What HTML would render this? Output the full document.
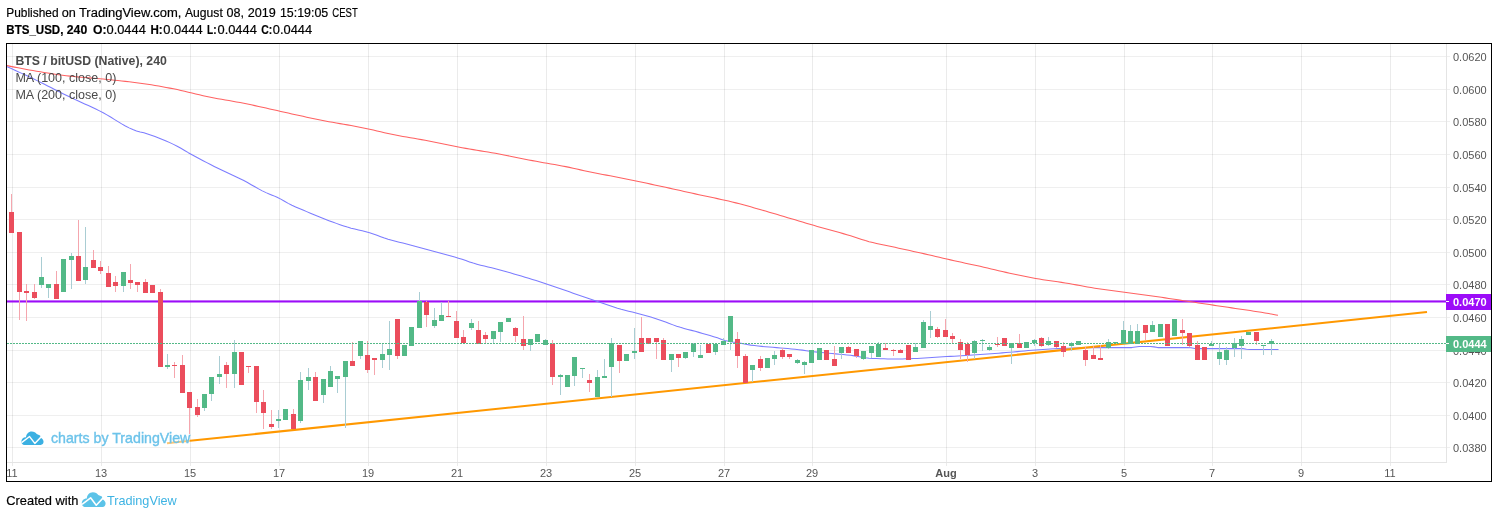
<!DOCTYPE html>
<html lang="en"><head><meta charset="utf-8"><title>BTS_USD chart</title>
<style>html,body{margin:0;padding:0;background:#fff;width:1498px;height:518px;overflow:hidden}</style>
</head><body>
<svg width="1498" height="518" viewBox="0 0 1498 518" style="position:absolute;left:0;top:0;will-change:transform;font-family:'Liberation Sans', sans-serif">
<rect x="0" y="0" width="1498" height="518" fill="#fff"/>
<g shape-rendering="crispEdges" fill="#000">
<rect x="12" y="44" width="1" height="422" fill-opacity="0.078"/>
<rect x="101" y="44" width="1" height="422" fill-opacity="0.078"/>
<rect x="190" y="44" width="1" height="422" fill-opacity="0.078"/>
<rect x="279" y="44" width="1" height="422" fill-opacity="0.078"/>
<rect x="368" y="44" width="1" height="422" fill-opacity="0.078"/>
<rect x="457" y="44" width="1" height="422" fill-opacity="0.078"/>
<rect x="546" y="44" width="1" height="422" fill-opacity="0.078"/>
<rect x="635" y="44" width="1" height="422" fill-opacity="0.078"/>
<rect x="724" y="44" width="1" height="422" fill-opacity="0.078"/>
<rect x="812" y="44" width="1" height="422" fill-opacity="0.078"/>
<rect x="946" y="44" width="1" height="422" fill-opacity="0.078"/>
<rect x="1035" y="44" width="1" height="422" fill-opacity="0.078"/>
<rect x="1124" y="44" width="1" height="422" fill-opacity="0.078"/>
<rect x="1212" y="44" width="1" height="422" fill-opacity="0.078"/>
<rect x="1301" y="44" width="1" height="422" fill-opacity="0.078"/>
<rect x="1390" y="44" width="1" height="422" fill-opacity="0.078"/>
<rect x="7" y="56" width="1443" height="1" fill-opacity="0.062"/>
<rect x="7" y="89" width="1443" height="1" fill-opacity="0.062"/>
<rect x="7" y="121" width="1443" height="1" fill-opacity="0.062"/>
<rect x="7" y="154" width="1443" height="1" fill-opacity="0.062"/>
<rect x="7" y="187" width="1443" height="1" fill-opacity="0.062"/>
<rect x="7" y="219" width="1443" height="1" fill-opacity="0.062"/>
<rect x="7" y="252" width="1443" height="1" fill-opacity="0.062"/>
<rect x="7" y="284" width="1443" height="1" fill-opacity="0.062"/>
<rect x="7" y="317" width="1443" height="1" fill-opacity="0.062"/>
<rect x="7" y="350" width="1443" height="1" fill-opacity="0.062"/>
<rect x="7" y="382" width="1443" height="1" fill-opacity="0.062"/>
<rect x="7" y="415" width="1443" height="1" fill-opacity="0.062"/>
<rect x="7" y="447" width="1443" height="1" fill-opacity="0.062"/>
</g>
<g shape-rendering="crispEdges" fill="#e4e4e4">
<rect x="1446" y="44" width="1" height="419"/>
<rect x="7" y="462" width="1440" height="1"/>
</g>
<defs><clipPath id="cp"><rect x="7" y="44" width="1439" height="418"/></clipPath></defs>
<g clip-path="url(#cp)">
<rect x="7" y="300.4" width="1439" height="2.1" fill="#9c0cf8"/>
<path d="M7.0,65.60 L10.7,66.37 L14.4,67.12 L18.1,67.85 L21.8,68.56 L25.5,69.26 L29.2,69.93 L32.9,70.58 L36.6,71.20 L40.3,71.82 L44.0,72.44 L47.7,73.04 L51.4,73.63 L55.1,74.20 L58.8,74.73 L62.5,75.24 L66.2,75.71 L69.9,76.14 L73.6,76.53 L77.3,76.89 L81.0,77.22 L84.7,77.53 L88.4,77.83 L92.1,78.13 L95.8,78.43 L99.5,78.75 L103.2,79.09 L106.9,79.46 L110.6,79.82 L114.3,80.19 L118.0,80.57 L121.7,80.95 L125.4,81.36 L129.1,81.77 L132.8,82.21 L136.5,82.67 L140.2,83.16 L143.9,83.68 L147.6,84.24 L151.3,84.83 L155.0,85.44 L158.7,86.08 L162.4,86.74 L166.1,87.43 L169.8,88.13 L173.5,88.84 L177.2,89.59 L180.9,90.41 L184.6,91.27 L188.3,92.16 L192.0,93.06 L195.7,93.97 L199.4,94.86 L203.1,95.72 L206.8,96.53 L210.5,97.28 L214.2,97.99 L217.9,98.66 L221.6,99.32 L225.3,99.96 L229.0,100.59 L232.7,101.24 L236.4,101.90 L240.1,102.58 L243.8,103.30 L247.5,104.05 L251.2,104.83 L254.9,105.62 L258.6,106.43 L262.3,107.26 L266.0,108.09 L269.7,108.92 L273.4,109.75 L277.1,110.58 L280.8,111.40 L284.5,112.23 L288.2,113.07 L291.9,113.91 L295.6,114.73 L299.3,115.55 L303.0,116.35 L306.7,117.15 L310.4,117.95 L314.1,118.73 L317.8,119.50 L321.5,120.25 L325.2,120.98 L328.9,121.67 L332.6,122.34 L336.3,122.98 L340.0,123.62 L343.7,124.25 L347.4,124.88 L351.1,125.53 L354.8,126.20 L358.5,126.90 L362.2,127.65 L365.9,128.44 L369.6,129.26 L373.3,130.11 L377.0,130.97 L380.7,131.83 L384.4,132.68 L388.1,133.51 L391.8,134.29 L395.5,135.04 L399.2,135.74 L402.9,136.41 L406.6,137.07 L410.3,137.71 L414.0,138.34 L417.7,138.97 L421.4,139.62 L425.1,140.28 L428.8,140.96 L432.5,141.68 L436.2,142.41 L439.9,143.17 L443.6,143.94 L447.3,144.71 L451.0,145.48 L454.7,146.23 L458.4,146.97 L462.1,147.68 L465.8,148.36 L469.5,149.01 L473.2,149.64 L476.9,150.25 L480.6,150.86 L484.3,151.46 L488.0,152.07 L491.7,152.69 L495.4,153.33 L499.1,153.99 L502.8,154.69 L506.5,155.41 L510.2,156.15 L513.9,156.90 L517.6,157.66 L521.3,158.42 L525.0,159.17 L528.7,159.91 L532.4,160.63 L536.1,161.32 L539.8,161.99 L543.5,162.65 L547.2,163.29 L550.9,163.93 L554.6,164.58 L558.3,165.24 L562.0,165.92 L565.7,166.62 L569.4,167.37 L573.1,168.17 L576.8,169.01 L580.5,169.88 L584.2,170.73 L587.9,171.56 L591.6,172.33 L595.3,173.05 L599.0,173.75 L602.7,174.43 L606.4,175.11 L610.1,175.79 L613.8,176.47 L617.5,177.18 L621.2,177.92 L624.9,178.67 L628.6,179.43 L632.3,180.19 L636.0,180.97 L639.7,181.75 L643.4,182.54 L647.1,183.33 L650.8,184.12 L654.5,184.92 L658.2,185.72 L661.9,186.52 L665.6,187.32 L669.3,188.13 L673.0,188.95 L676.7,189.77 L680.4,190.59 L684.1,191.41 L687.8,192.23 L691.5,193.05 L695.2,193.87 L698.9,194.68 L702.6,195.47 L706.3,196.26 L710.0,197.04 L713.7,197.82 L717.4,198.62 L721.1,199.42 L724.8,200.24 L728.5,201.09 L732.2,201.96 L735.9,202.87 L739.6,203.82 L743.3,204.80 L747.0,205.81 L750.7,206.85 L754.4,207.90 L758.1,208.97 L761.8,210.04 L765.5,211.12 L769.2,212.20 L772.9,213.27 L776.6,214.35 L780.3,215.43 L784.0,216.54 L787.7,217.64 L791.4,218.76 L795.1,219.87 L798.8,220.98 L802.5,222.09 L806.2,223.19 L809.9,224.28 L813.6,225.35 L817.3,226.40 L821.0,227.44 L824.7,228.46 L828.4,229.48 L832.1,230.51 L835.8,231.53 L839.5,232.57 L843.2,233.62 L846.9,234.69 L850.6,235.79 L854.3,236.96 L858.0,238.18 L861.7,239.41 L865.4,240.59 L869.1,241.66 L872.8,242.61 L876.5,243.48 L880.2,244.29 L883.9,245.07 L887.6,245.83 L891.3,246.59 L895.0,247.35 L898.7,248.15 L902.4,248.97 L906.1,249.78 L909.8,250.59 L913.5,251.41 L917.2,252.23 L920.9,253.05 L924.6,253.88 L928.3,254.72 L932.0,255.58 L935.7,256.44 L939.4,257.30 L943.1,258.17 L946.8,259.03 L950.5,259.88 L954.2,260.72 L957.9,261.54 L961.6,262.35 L965.3,263.15 L969.0,263.94 L972.7,264.74 L976.4,265.54 L980.1,266.35 L983.8,267.18 L987.5,268.04 L991.2,268.91 L994.9,269.79 L998.6,270.66 L1002.3,271.53 L1006.0,272.38 L1009.7,273.19 L1013.4,273.99 L1017.1,274.77 L1020.8,275.55 L1024.5,276.31 L1028.2,277.05 L1031.9,277.76 L1035.6,278.44 L1039.3,279.09 L1043.0,279.68 L1046.7,280.24 L1050.4,280.77 L1054.1,281.30 L1057.8,281.83 L1061.5,282.37 L1065.2,282.94 L1068.9,283.55 L1072.6,284.21 L1076.3,284.88 L1080.0,285.58 L1083.7,286.27 L1087.4,286.94 L1091.1,287.58 L1094.8,288.18 L1098.5,288.74 L1102.2,289.28 L1105.9,289.79 L1109.6,290.30 L1113.3,290.79 L1117.0,291.29 L1120.7,291.78 L1124.4,292.28 L1128.1,292.77 L1131.8,293.25 L1135.5,293.73 L1139.2,294.21 L1142.9,294.69 L1146.6,295.19 L1150.3,295.70 L1154.0,296.23 L1157.7,296.77 L1161.4,297.32 L1165.1,297.88 L1168.8,298.44 L1172.5,299.01 L1176.2,299.57 L1179.9,300.12 L1183.6,300.68 L1187.3,301.23 L1191.0,301.79 L1194.7,302.35 L1198.4,302.90 L1202.1,303.46 L1205.8,304.01 L1209.5,304.56 L1213.2,305.12 L1216.9,305.67 L1220.6,306.22 L1224.3,306.77 L1228.0,307.33 L1231.7,307.88 L1235.4,308.43 L1239.1,308.98 L1242.8,309.52 L1246.5,310.05 L1250.2,310.59 L1253.9,311.15 L1257.6,311.71 L1261.3,312.30 L1265.0,312.92 L1268.7,313.57 L1272.4,314.24 L1276.1,314.94 L1278.0,315.30" fill="none" stroke="#ff6262" stroke-width="1.05" stroke-linejoin="round"/>
<path d="M7.0,66.70 L10.7,68.34 L14.4,70.01 L18.1,71.69 L21.8,73.39 L25.5,75.10 L29.2,76.84 L32.9,78.59 L36.6,80.37 L40.3,82.19 L44.0,84.04 L47.7,85.91 L51.4,87.80 L55.1,89.69 L58.8,91.58 L62.5,93.45 L66.2,95.29 L69.9,97.09 L73.6,98.85 L77.3,100.56 L81.0,102.24 L84.7,103.92 L88.4,105.60 L92.1,107.30 L95.8,109.05 L99.5,110.85 L103.2,112.76 L106.9,114.84 L110.6,117.06 L114.3,119.35 L118.0,121.64 L121.7,123.87 L125.4,125.97 L129.1,127.88 L132.8,129.55 L136.5,130.89 L140.2,131.89 L143.9,132.80 L147.6,133.91 L151.3,135.15 L155.0,136.49 L158.7,137.91 L162.4,139.41 L166.1,140.99 L169.8,142.64 L173.5,144.36 L177.2,146.23 L180.9,148.31 L184.6,150.49 L188.3,152.67 L192.0,154.74 L195.7,156.74 L199.4,158.74 L203.1,160.71 L206.8,162.65 L210.5,164.57 L214.2,166.45 L217.9,168.28 L221.6,170.05 L225.3,171.77 L229.0,173.48 L232.7,175.18 L236.4,176.91 L240.1,178.70 L243.8,180.56 L247.5,182.56 L251.2,184.67 L254.9,186.81 L258.6,188.90 L262.3,190.87 L266.0,192.62 L269.7,194.16 L273.4,195.64 L277.1,197.23 L280.8,199.11 L284.5,201.25 L288.2,203.37 L291.9,205.22 L295.6,206.91 L299.3,208.51 L303.0,210.06 L306.7,211.61 L310.4,213.16 L314.1,214.71 L317.8,216.25 L321.5,217.75 L325.2,219.23 L328.9,220.66 L332.6,222.03 L336.3,223.37 L340.0,224.68 L343.7,225.93 L347.4,227.10 L351.1,228.16 L354.8,229.09 L358.5,229.95 L362.2,230.81 L365.9,231.71 L369.6,232.71 L373.3,233.91 L377.0,235.27 L380.7,236.69 L384.4,238.05 L388.1,239.24 L391.8,240.29 L395.5,241.26 L399.2,242.19 L402.9,243.09 L406.6,244.00 L410.3,244.93 L414.0,245.91 L417.7,246.90 L421.4,247.90 L425.1,248.91 L428.8,249.92 L432.5,250.94 L436.2,251.96 L439.9,252.96 L443.6,253.96 L447.3,254.96 L451.0,255.99 L454.7,257.04 L458.4,258.14 L462.1,259.33 L465.8,260.62 L469.5,261.90 L473.2,263.10 L476.9,264.16 L480.6,265.14 L484.3,266.06 L488.0,266.95 L491.7,267.84 L495.4,268.76 L499.1,269.74 L502.8,270.75 L506.5,271.77 L510.2,272.82 L513.9,273.88 L517.6,274.95 L521.3,276.04 L525.0,277.15 L528.7,278.28 L532.4,279.42 L536.1,280.58 L539.8,281.77 L543.5,282.99 L547.2,284.22 L550.9,285.48 L554.6,286.74 L558.3,288.02 L562.0,289.30 L565.7,290.59 L569.4,291.87 L573.1,293.15 L576.8,294.41 L580.5,295.67 L584.2,296.91 L587.9,298.16 L591.6,299.40 L595.3,300.65 L599.0,301.90 L602.7,303.18 L606.4,304.50 L610.1,305.82 L613.8,307.09 L617.5,308.27 L621.2,309.33 L624.9,310.28 L628.6,311.18 L632.3,312.06 L636.0,312.96 L639.7,313.92 L643.4,314.95 L647.1,316.01 L650.8,317.12 L654.5,318.26 L658.2,319.44 L661.9,320.69 L665.6,322.06 L669.3,323.47 L673.0,324.87 L676.7,326.18 L680.4,327.35 L684.1,328.41 L687.8,329.40 L691.5,330.37 L695.2,331.35 L698.9,332.38 L702.6,333.44 L706.3,334.51 L710.0,335.60 L713.7,336.72 L717.4,337.86 L721.1,339.16 L724.8,340.44 L728.5,341.34 L732.2,342.00 L735.9,342.56 L739.6,343.13 L743.3,343.80 L747.0,344.49 L750.7,345.11 L754.4,345.60 L758.1,346.02 L761.8,346.39 L765.5,346.74 L769.2,347.06 L772.9,347.35 L776.6,347.63 L780.3,347.92 L784.0,348.22 L787.7,348.55 L791.4,348.90 L795.1,349.26 L798.8,349.66 L802.5,350.13 L806.2,350.71 L809.9,351.27 L813.6,351.72 L817.3,352.11 L821.0,352.47 L824.7,352.81 L828.4,353.15 L832.1,353.51 L835.8,353.86 L839.5,354.20 L843.2,354.55 L846.9,354.92 L850.6,355.34 L854.3,355.88 L858.0,356.53 L861.7,357.20 L865.4,357.79 L869.1,358.20 L872.8,358.40 L876.5,358.56 L880.2,358.70 L883.9,358.82 L887.6,358.91 L891.3,358.97 L895.0,359.00 L898.7,358.98 L902.4,358.93 L906.1,358.83 L909.8,358.71 L913.5,358.57 L917.2,358.42 L920.9,358.26 L924.6,358.05 L928.3,357.78 L932.0,357.51 L935.7,357.26 L939.4,357.03 L943.1,356.80 L946.8,356.59 L950.5,356.37 L954.2,356.15 L957.9,355.93 L961.6,355.70 L965.3,355.48 L969.0,355.25 L972.7,355.03 L976.4,354.79 L980.1,354.55 L983.8,354.30 L987.5,354.04 L991.2,353.77 L994.9,353.48 L998.6,353.18 L1002.3,352.88 L1006.0,352.57 L1009.7,352.26 L1013.4,351.94 L1017.1,351.61 L1020.8,351.26 L1024.5,350.92 L1028.2,350.59 L1031.9,350.27 L1035.6,349.99 L1039.3,349.73 L1043.0,349.48 L1046.7,349.24 L1050.4,349.02 L1054.1,348.81 L1057.8,348.62 L1061.5,348.46 L1065.2,348.31 L1068.9,348.16 L1072.6,348.02 L1076.3,347.90 L1080.0,347.80 L1083.7,347.73 L1087.4,347.68 L1091.1,347.65 L1094.8,347.62 L1098.5,347.60 L1102.2,347.60 L1105.9,347.60 L1109.6,347.60 L1113.3,347.60 L1117.0,347.60 L1120.7,347.60 L1124.4,347.60 L1128.1,347.60 L1131.8,347.60 L1135.5,347.05 L1139.2,346.50 L1142.9,346.50 L1146.6,346.50 L1150.3,346.50 L1154.0,346.89 L1157.7,347.60 L1161.4,347.60 L1165.1,347.60 L1168.8,347.60 L1172.5,347.60 L1176.2,347.60 L1179.9,347.60 L1183.6,347.60 L1187.3,347.60 L1191.0,347.70 L1194.7,348.59 L1198.4,348.60 L1202.1,348.60 L1205.8,348.60 L1209.5,348.60 L1213.2,348.60 L1216.9,348.60 L1220.6,348.60 L1224.3,348.60 L1228.0,348.60 L1231.7,348.60 L1235.4,348.60 L1239.1,348.60 L1242.8,348.64 L1246.5,349.27 L1250.2,349.40 L1253.9,349.40 L1257.6,349.40 L1261.3,349.40 L1265.0,349.40 L1268.7,349.40 L1272.4,349.40 L1276.1,349.40 L1278.5,349.40" fill="none" stroke="#7c7cff" stroke-width="1.05" stroke-linejoin="round"/>
<line x1="167" y1="443.2" x2="190" y2="440.81" stroke="#ff9800" stroke-width="2.05" stroke-opacity="0.55"/>
<line x1="190" y1="440.81" x2="1427" y2="312.1" stroke="#ff9800" stroke-width="2.05" stroke-linecap="butt"/>
<g shape-rendering="crispEdges">
<rect x="11" y="194" width="1" height="39" fill="#f5a6ae"/>
<rect x="9" y="212" width="5" height="21" fill="#eb4d5c"/>
<rect x="19" y="232" width="1" height="88" fill="#f5a6ae"/>
<rect x="17" y="232" width="5" height="60" fill="#eb4d5c"/>
<rect x="26" y="284" width="1" height="37" fill="#f5a6ae"/>
<rect x="24" y="291" width="5" height="2" fill="#eb4d5c"/>
<rect x="34" y="284" width="1" height="15" fill="#f5a6ae"/>
<rect x="32" y="292" width="5" height="6" fill="#eb4d5c"/>
<rect x="41" y="257" width="1" height="31" fill="#a9cdd3"/>
<rect x="39" y="277" width="5" height="8" fill="#53b987"/>
<rect x="48" y="284" width="1" height="14" fill="#a9cdd3"/>
<rect x="46" y="284" width="5" height="4" fill="#53b987"/>
<rect x="56" y="271" width="1" height="28" fill="#f5a6ae"/>
<rect x="54" y="284" width="5" height="15" fill="#eb4d5c"/>
<rect x="63" y="259" width="1" height="33" fill="#a9cdd3"/>
<rect x="61" y="259" width="5" height="33" fill="#53b987"/>
<rect x="71" y="253" width="1" height="36" fill="#a9cdd3"/>
<rect x="69" y="256" width="5" height="4" fill="#53b987"/>
<rect x="78" y="220" width="1" height="61" fill="#f5a6ae"/>
<rect x="76" y="256" width="5" height="25" fill="#eb4d5c"/>
<rect x="85" y="227" width="1" height="57" fill="#a9cdd3"/>
<rect x="83" y="267" width="5" height="13" fill="#53b987"/>
<rect x="93" y="250" width="1" height="18" fill="#f5a6ae"/>
<rect x="91" y="260" width="5" height="8" fill="#eb4d5c"/>
<rect x="100" y="261" width="1" height="13" fill="#f5a6ae"/>
<rect x="98" y="267" width="5" height="4" fill="#eb4d5c"/>
<rect x="108" y="266" width="1" height="21" fill="#f5a6ae"/>
<rect x="106" y="273" width="5" height="14" fill="#eb4d5c"/>
<rect x="115" y="276" width="1" height="16" fill="#f5a6ae"/>
<rect x="113" y="282" width="5" height="4" fill="#eb4d5c"/>
<rect x="123" y="272" width="1" height="20" fill="#a9cdd3"/>
<rect x="121" y="272" width="5" height="14" fill="#53b987"/>
<rect x="130" y="264" width="1" height="25" fill="#f5a6ae"/>
<rect x="128" y="280" width="5" height="3" fill="#eb4d5c"/>
<rect x="137" y="282" width="1" height="10" fill="#f5a6ae"/>
<rect x="135" y="282" width="5" height="3" fill="#eb4d5c"/>
<rect x="145" y="279" width="1" height="14" fill="#f5a6ae"/>
<rect x="143" y="282" width="5" height="11" fill="#eb4d5c"/>
<rect x="152" y="285" width="1" height="8" fill="#f5a6ae"/>
<rect x="150" y="285" width="5" height="8" fill="#eb4d5c"/>
<rect x="160" y="289" width="1" height="78" fill="#f5a6ae"/>
<rect x="158" y="292" width="5" height="75" fill="#eb4d5c"/>
<rect x="167" y="354" width="1" height="15" fill="#a9cdd3"/>
<rect x="165" y="365" width="5" height="2" fill="#53b987"/>
<rect x="174" y="362" width="1" height="16" fill="#f5a6ae"/>
<rect x="172" y="365" width="5" height="1" fill="#eb4d5c"/>
<rect x="182" y="355" width="1" height="38" fill="#f5a6ae"/>
<rect x="180" y="365" width="5" height="28" fill="#eb4d5c"/>
<rect x="189" y="392" width="1" height="42" fill="#f5a6ae"/>
<rect x="187" y="392" width="5" height="16" fill="#eb4d5c"/>
<rect x="197" y="399" width="1" height="18" fill="#f5a6ae"/>
<rect x="195" y="407" width="5" height="8" fill="#eb4d5c"/>
<rect x="204" y="394" width="1" height="17" fill="#a9cdd3"/>
<rect x="202" y="394" width="5" height="14" fill="#53b987"/>
<rect x="211" y="377" width="1" height="24" fill="#a9cdd3"/>
<rect x="209" y="377" width="5" height="17" fill="#53b987"/>
<rect x="219" y="356" width="1" height="28" fill="#a9cdd3"/>
<rect x="217" y="374" width="5" height="3" fill="#53b987"/>
<rect x="226" y="362" width="1" height="26" fill="#f5a6ae"/>
<rect x="224" y="365" width="5" height="9" fill="#eb4d5c"/>
<rect x="234" y="340" width="1" height="48" fill="#a9cdd3"/>
<rect x="232" y="352" width="5" height="22" fill="#53b987"/>
<rect x="241" y="352" width="1" height="33" fill="#f5a6ae"/>
<rect x="239" y="352" width="5" height="33" fill="#eb4d5c"/>
<rect x="248" y="366" width="1" height="7" fill="#f5a6ae"/>
<rect x="246" y="366" width="5" height="1" fill="#eb4d5c"/>
<rect x="256" y="366" width="1" height="47" fill="#f5a6ae"/>
<rect x="254" y="366" width="5" height="36" fill="#eb4d5c"/>
<rect x="263" y="390" width="1" height="39" fill="#f5a6ae"/>
<rect x="261" y="402" width="5" height="11" fill="#eb4d5c"/>
<rect x="271" y="410" width="1" height="19" fill="#f5a6ae"/>
<rect x="269" y="424" width="5" height="3" fill="#eb4d5c"/>
<rect x="278" y="410" width="1" height="18" fill="#a9cdd3"/>
<rect x="276" y="419" width="5" height="2" fill="#53b987"/>
<rect x="285" y="409" width="1" height="11" fill="#a9cdd3"/>
<rect x="283" y="409" width="5" height="11" fill="#53b987"/>
<rect x="293" y="409" width="1" height="20" fill="#f5a6ae"/>
<rect x="291" y="414" width="5" height="15" fill="#eb4d5c"/>
<rect x="300" y="372" width="1" height="51" fill="#a9cdd3"/>
<rect x="298" y="380" width="5" height="41" fill="#53b987"/>
<rect x="308" y="368" width="1" height="22" fill="#a9cdd3"/>
<rect x="306" y="377" width="5" height="4" fill="#53b987"/>
<rect x="315" y="372" width="1" height="29" fill="#f5a6ae"/>
<rect x="313" y="377" width="5" height="24" fill="#eb4d5c"/>
<rect x="323" y="379" width="1" height="24" fill="#a9cdd3"/>
<rect x="321" y="379" width="5" height="16" fill="#53b987"/>
<rect x="330" y="366" width="1" height="21" fill="#a9cdd3"/>
<rect x="328" y="371" width="5" height="16" fill="#53b987"/>
<rect x="337" y="376" width="1" height="17" fill="#a9cdd3"/>
<rect x="335" y="376" width="5" height="3" fill="#53b987"/>
<rect x="345" y="361" width="1" height="67" fill="#a9cdd3"/>
<rect x="343" y="361" width="5" height="16" fill="#53b987"/>
<rect x="352" y="342" width="1" height="24" fill="#f5a6ae"/>
<rect x="350" y="361" width="5" height="5" fill="#eb4d5c"/>
<rect x="360" y="341" width="1" height="18" fill="#a9cdd3"/>
<rect x="358" y="341" width="5" height="15" fill="#53b987"/>
<rect x="367" y="341" width="1" height="32" fill="#f5a6ae"/>
<rect x="365" y="355" width="5" height="15" fill="#eb4d5c"/>
<rect x="374" y="358" width="1" height="17" fill="#f5a6ae"/>
<rect x="372" y="358" width="5" height="2" fill="#eb4d5c"/>
<rect x="382" y="344" width="1" height="24" fill="#a9cdd3"/>
<rect x="380" y="354" width="5" height="6" fill="#53b987"/>
<rect x="389" y="321" width="1" height="49" fill="#a9cdd3"/>
<rect x="387" y="349" width="5" height="6" fill="#53b987"/>
<rect x="397" y="319" width="1" height="40" fill="#f5a6ae"/>
<rect x="395" y="319" width="5" height="37" fill="#eb4d5c"/>
<rect x="404" y="345" width="1" height="11" fill="#a9cdd3"/>
<rect x="402" y="345" width="5" height="11" fill="#53b987"/>
<rect x="411" y="327" width="1" height="19" fill="#a9cdd3"/>
<rect x="409" y="327" width="5" height="19" fill="#53b987"/>
<rect x="419" y="292" width="1" height="36" fill="#a9cdd3"/>
<rect x="417" y="301" width="5" height="27" fill="#53b987"/>
<rect x="426" y="301" width="1" height="26" fill="#f5a6ae"/>
<rect x="424" y="302" width="5" height="13" fill="#eb4d5c"/>
<rect x="434" y="308" width="1" height="20" fill="#a9cdd3"/>
<rect x="432" y="320" width="5" height="6" fill="#53b987"/>
<rect x="441" y="302" width="1" height="19" fill="#a9cdd3"/>
<rect x="439" y="315" width="5" height="6" fill="#53b987"/>
<rect x="448" y="301" width="1" height="16" fill="#f5a6ae"/>
<rect x="446" y="316" width="5" height="1" fill="#eb4d5c"/>
<rect x="456" y="311" width="1" height="27" fill="#f5a6ae"/>
<rect x="454" y="321" width="5" height="17" fill="#eb4d5c"/>
<rect x="463" y="330" width="1" height="13" fill="#f5a6ae"/>
<rect x="461" y="337" width="5" height="6" fill="#eb4d5c"/>
<rect x="471" y="319" width="1" height="11" fill="#a9cdd3"/>
<rect x="469" y="323" width="5" height="5" fill="#53b987"/>
<rect x="478" y="321" width="1" height="23" fill="#f5a6ae"/>
<rect x="476" y="330" width="5" height="14" fill="#eb4d5c"/>
<rect x="485" y="332" width="1" height="11" fill="#f5a6ae"/>
<rect x="483" y="335" width="5" height="4" fill="#eb4d5c"/>
<rect x="493" y="331" width="1" height="12" fill="#a9cdd3"/>
<rect x="491" y="331" width="5" height="8" fill="#53b987"/>
<rect x="500" y="322" width="1" height="20" fill="#a9cdd3"/>
<rect x="498" y="322" width="5" height="10" fill="#53b987"/>
<rect x="508" y="318" width="1" height="4" fill="#a9cdd3"/>
<rect x="506" y="318" width="5" height="4" fill="#53b987"/>
<rect x="515" y="327" width="1" height="15" fill="#f5a6ae"/>
<rect x="513" y="328" width="5" height="8" fill="#eb4d5c"/>
<rect x="523" y="316" width="1" height="34" fill="#f5a6ae"/>
<rect x="521" y="339" width="5" height="7" fill="#eb4d5c"/>
<rect x="530" y="339" width="1" height="12" fill="#a9cdd3"/>
<rect x="528" y="339" width="5" height="6" fill="#53b987"/>
<rect x="537" y="334" width="1" height="8" fill="#a9cdd3"/>
<rect x="535" y="334" width="5" height="8" fill="#53b987"/>
<rect x="545" y="339" width="1" height="6" fill="#a9cdd3"/>
<rect x="543" y="340" width="5" height="5" fill="#53b987"/>
<rect x="552" y="340" width="1" height="45" fill="#f5a6ae"/>
<rect x="550" y="344" width="5" height="33" fill="#eb4d5c"/>
<rect x="560" y="374" width="1" height="21" fill="#a9cdd3"/>
<rect x="558" y="375" width="5" height="2" fill="#53b987"/>
<rect x="567" y="375" width="1" height="12" fill="#a9cdd3"/>
<rect x="565" y="375" width="5" height="12" fill="#53b987"/>
<rect x="574" y="357" width="1" height="29" fill="#a9cdd3"/>
<rect x="572" y="357" width="5" height="19" fill="#53b987"/>
<rect x="582" y="368" width="1" height="10" fill="#a9cdd3"/>
<rect x="580" y="368" width="5" height="1" fill="#53b987"/>
<rect x="589" y="374" width="1" height="18" fill="#f5a6ae"/>
<rect x="587" y="380" width="5" height="3" fill="#eb4d5c"/>
<rect x="597" y="370" width="1" height="27" fill="#a9cdd3"/>
<rect x="595" y="377" width="5" height="20" fill="#53b987"/>
<rect x="604" y="359" width="1" height="19" fill="#a9cdd3"/>
<rect x="602" y="376" width="5" height="2" fill="#53b987"/>
<rect x="611" y="338" width="1" height="59" fill="#a9cdd3"/>
<rect x="609" y="343" width="5" height="24" fill="#53b987"/>
<rect x="619" y="345" width="1" height="28" fill="#f5a6ae"/>
<rect x="617" y="345" width="5" height="16" fill="#eb4d5c"/>
<rect x="626" y="354" width="1" height="7" fill="#a9cdd3"/>
<rect x="624" y="354" width="5" height="7" fill="#53b987"/>
<rect x="634" y="328" width="1" height="31" fill="#a9cdd3"/>
<rect x="632" y="351" width="5" height="2" fill="#53b987"/>
<rect x="641" y="317" width="1" height="35" fill="#f5a6ae"/>
<rect x="639" y="338" width="5" height="14" fill="#eb4d5c"/>
<rect x="648" y="338" width="1" height="6" fill="#f5a6ae"/>
<rect x="646" y="338" width="5" height="6" fill="#eb4d5c"/>
<rect x="656" y="338" width="1" height="21" fill="#f5a6ae"/>
<rect x="654" y="338" width="5" height="4" fill="#eb4d5c"/>
<rect x="663" y="338" width="1" height="22" fill="#f5a6ae"/>
<rect x="661" y="340" width="5" height="20" fill="#eb4d5c"/>
<rect x="671" y="354" width="1" height="18" fill="#a9cdd3"/>
<rect x="669" y="354" width="5" height="6" fill="#53b987"/>
<rect x="678" y="354" width="1" height="13" fill="#f5a6ae"/>
<rect x="676" y="354" width="5" height="4" fill="#eb4d5c"/>
<rect x="685" y="352" width="1" height="7" fill="#a9cdd3"/>
<rect x="683" y="352" width="5" height="6" fill="#53b987"/>
<rect x="693" y="343" width="1" height="14" fill="#a9cdd3"/>
<rect x="691" y="344" width="5" height="8" fill="#53b987"/>
<rect x="700" y="345" width="1" height="13" fill="#a9cdd3"/>
<rect x="698" y="355" width="5" height="3" fill="#53b987"/>
<rect x="708" y="344" width="1" height="9" fill="#f5a6ae"/>
<rect x="706" y="344" width="5" height="9" fill="#eb4d5c"/>
<rect x="715" y="344" width="1" height="11" fill="#a9cdd3"/>
<rect x="713" y="344" width="5" height="8" fill="#53b987"/>
<rect x="723" y="338" width="1" height="7" fill="#a9cdd3"/>
<rect x="721" y="341" width="5" height="4" fill="#53b987"/>
<rect x="730" y="316" width="1" height="34" fill="#a9cdd3"/>
<rect x="728" y="316" width="5" height="26" fill="#53b987"/>
<rect x="737" y="332" width="1" height="36" fill="#f5a6ae"/>
<rect x="735" y="339" width="5" height="17" fill="#eb4d5c"/>
<rect x="745" y="354" width="1" height="29" fill="#f5a6ae"/>
<rect x="743" y="356" width="5" height="27" fill="#eb4d5c"/>
<rect x="752" y="365" width="1" height="17" fill="#a9cdd3"/>
<rect x="750" y="365" width="5" height="5" fill="#53b987"/>
<rect x="760" y="356" width="1" height="15" fill="#f5a6ae"/>
<rect x="758" y="359" width="5" height="9" fill="#eb4d5c"/>
<rect x="767" y="358" width="1" height="10" fill="#a9cdd3"/>
<rect x="765" y="358" width="5" height="10" fill="#53b987"/>
<rect x="774" y="351" width="1" height="14" fill="#a9cdd3"/>
<rect x="772" y="355" width="5" height="4" fill="#53b987"/>
<rect x="782" y="348" width="1" height="11" fill="#f5a6ae"/>
<rect x="780" y="350" width="5" height="7" fill="#eb4d5c"/>
<rect x="789" y="354" width="1" height="5" fill="#f5a6ae"/>
<rect x="787" y="354" width="5" height="3" fill="#eb4d5c"/>
<rect x="797" y="359" width="1" height="5" fill="#a9cdd3"/>
<rect x="795" y="360" width="5" height="3" fill="#53b987"/>
<rect x="804" y="361" width="1" height="13" fill="#a9cdd3"/>
<rect x="802" y="362" width="5" height="3" fill="#53b987"/>
<rect x="811" y="350" width="1" height="13" fill="#a9cdd3"/>
<rect x="809" y="350" width="5" height="13" fill="#53b987"/>
<rect x="819" y="348" width="1" height="12" fill="#a9cdd3"/>
<rect x="817" y="348" width="5" height="12" fill="#53b987"/>
<rect x="826" y="350" width="1" height="10" fill="#f5a6ae"/>
<rect x="824" y="350" width="5" height="10" fill="#eb4d5c"/>
<rect x="834" y="346" width="1" height="20" fill="#f5a6ae"/>
<rect x="832" y="359" width="5" height="7" fill="#eb4d5c"/>
<rect x="841" y="347" width="1" height="12" fill="#a9cdd3"/>
<rect x="839" y="347" width="5" height="6" fill="#53b987"/>
<rect x="848" y="346" width="1" height="7" fill="#f5a6ae"/>
<rect x="846" y="347" width="5" height="6" fill="#eb4d5c"/>
<rect x="856" y="349" width="1" height="9" fill="#f5a6ae"/>
<rect x="854" y="349" width="5" height="7" fill="#eb4d5c"/>
<rect x="863" y="351" width="1" height="9" fill="#a9cdd3"/>
<rect x="861" y="351" width="5" height="8" fill="#53b987"/>
<rect x="871" y="346" width="1" height="12" fill="#a9cdd3"/>
<rect x="869" y="346" width="5" height="7" fill="#53b987"/>
<rect x="878" y="342" width="1" height="15" fill="#a9cdd3"/>
<rect x="876" y="344" width="5" height="13" fill="#53b987"/>
<rect x="885" y="343" width="1" height="7" fill="#f5a6ae"/>
<rect x="883" y="348" width="5" height="2" fill="#eb4d5c"/>
<rect x="893" y="349" width="1" height="7" fill="#f5a6ae"/>
<rect x="891" y="350" width="5" height="1" fill="#eb4d5c"/>
<rect x="900" y="349" width="1" height="4" fill="#f5a6ae"/>
<rect x="898" y="350" width="5" height="3" fill="#eb4d5c"/>
<rect x="908" y="345" width="1" height="15" fill="#f5a6ae"/>
<rect x="906" y="345" width="5" height="15" fill="#eb4d5c"/>
<rect x="915" y="343" width="1" height="9" fill="#a9cdd3"/>
<rect x="913" y="347" width="5" height="5" fill="#53b987"/>
<rect x="923" y="320" width="1" height="28" fill="#a9cdd3"/>
<rect x="921" y="322" width="5" height="26" fill="#53b987"/>
<rect x="930" y="311" width="1" height="27" fill="#a9cdd3"/>
<rect x="928" y="326" width="5" height="4" fill="#53b987"/>
<rect x="937" y="327" width="1" height="11" fill="#f5a6ae"/>
<rect x="935" y="329" width="5" height="8" fill="#eb4d5c"/>
<rect x="945" y="319" width="1" height="18" fill="#f5a6ae"/>
<rect x="943" y="330" width="5" height="7" fill="#eb4d5c"/>
<rect x="952" y="333" width="1" height="11" fill="#f5a6ae"/>
<rect x="950" y="336" width="5" height="3" fill="#eb4d5c"/>
<rect x="960" y="339" width="1" height="20" fill="#f5a6ae"/>
<rect x="958" y="342" width="5" height="8" fill="#eb4d5c"/>
<rect x="967" y="342" width="1" height="20" fill="#f5a6ae"/>
<rect x="965" y="344" width="5" height="11" fill="#eb4d5c"/>
<rect x="974" y="340" width="1" height="19" fill="#a9cdd3"/>
<rect x="972" y="341" width="5" height="12" fill="#53b987"/>
<rect x="982" y="339" width="1" height="12" fill="#a9cdd3"/>
<rect x="980" y="340" width="5" height="1" fill="#53b987"/>
<rect x="989" y="345" width="1" height="6" fill="#a9cdd3"/>
<rect x="987" y="347" width="5" height="3" fill="#53b987"/>
<rect x="997" y="337" width="1" height="10" fill="#f5a6ae"/>
<rect x="995" y="344" width="5" height="1" fill="#eb4d5c"/>
<rect x="1004" y="338" width="1" height="8" fill="#f5a6ae"/>
<rect x="1002" y="338" width="5" height="8" fill="#eb4d5c"/>
<rect x="1011" y="343" width="1" height="21" fill="#a9cdd3"/>
<rect x="1009" y="343" width="5" height="5" fill="#53b987"/>
<rect x="1019" y="334" width="1" height="14" fill="#f5a6ae"/>
<rect x="1017" y="343" width="5" height="5" fill="#eb4d5c"/>
<rect x="1026" y="342" width="1" height="6" fill="#a9cdd3"/>
<rect x="1024" y="342" width="5" height="6" fill="#53b987"/>
<rect x="1034" y="339" width="1" height="7" fill="#a9cdd3"/>
<rect x="1032" y="340" width="5" height="3" fill="#53b987"/>
<rect x="1041" y="337" width="1" height="10" fill="#f5a6ae"/>
<rect x="1039" y="338" width="5" height="8" fill="#eb4d5c"/>
<rect x="1048" y="337" width="1" height="9" fill="#a9cdd3"/>
<rect x="1046" y="341" width="5" height="4" fill="#53b987"/>
<rect x="1056" y="341" width="1" height="7" fill="#f5a6ae"/>
<rect x="1054" y="341" width="5" height="6" fill="#eb4d5c"/>
<rect x="1063" y="342" width="1" height="15" fill="#f5a6ae"/>
<rect x="1061" y="346" width="5" height="6" fill="#eb4d5c"/>
<rect x="1071" y="342" width="1" height="9" fill="#a9cdd3"/>
<rect x="1069" y="343" width="5" height="3" fill="#53b987"/>
<rect x="1078" y="341" width="1" height="4" fill="#a9cdd3"/>
<rect x="1076" y="341" width="5" height="4" fill="#53b987"/>
<rect x="1085" y="347" width="1" height="19" fill="#f5a6ae"/>
<rect x="1083" y="350" width="5" height="10" fill="#eb4d5c"/>
<rect x="1093" y="346" width="1" height="13" fill="#f5a6ae"/>
<rect x="1091" y="355" width="5" height="4" fill="#eb4d5c"/>
<rect x="1100" y="345" width="1" height="15" fill="#f5a6ae"/>
<rect x="1098" y="358" width="5" height="2" fill="#eb4d5c"/>
<rect x="1108" y="339" width="1" height="10" fill="#a9cdd3"/>
<rect x="1106" y="342" width="5" height="6" fill="#53b987"/>
<rect x="1115" y="342" width="1" height="1" fill="#a9cdd3"/>
<rect x="1113" y="342" width="5" height="1" fill="#53b987"/>
<rect x="1123" y="321" width="1" height="23" fill="#a9cdd3"/>
<rect x="1121" y="330" width="5" height="14" fill="#53b987"/>
<rect x="1130" y="325" width="1" height="19" fill="#a9cdd3"/>
<rect x="1128" y="331" width="5" height="13" fill="#53b987"/>
<rect x="1137" y="324" width="1" height="20" fill="#a9cdd3"/>
<rect x="1135" y="331" width="5" height="13" fill="#53b987"/>
<rect x="1145" y="325" width="1" height="15" fill="#f5a6ae"/>
<rect x="1143" y="325" width="5" height="8" fill="#eb4d5c"/>
<rect x="1152" y="321" width="1" height="11" fill="#a9cdd3"/>
<rect x="1150" y="325" width="5" height="7" fill="#53b987"/>
<rect x="1160" y="324" width="1" height="13" fill="#a9cdd3"/>
<rect x="1158" y="324" width="5" height="13" fill="#53b987"/>
<rect x="1167" y="324" width="1" height="22" fill="#f5a6ae"/>
<rect x="1165" y="324" width="5" height="22" fill="#eb4d5c"/>
<rect x="1174" y="319" width="1" height="17" fill="#a9cdd3"/>
<rect x="1172" y="319" width="5" height="17" fill="#53b987"/>
<rect x="1182" y="319" width="1" height="26" fill="#f5a6ae"/>
<rect x="1180" y="330" width="5" height="3" fill="#eb4d5c"/>
<rect x="1189" y="333" width="1" height="14" fill="#f5a6ae"/>
<rect x="1187" y="333" width="5" height="13" fill="#eb4d5c"/>
<rect x="1197" y="341" width="1" height="19" fill="#f5a6ae"/>
<rect x="1195" y="345" width="5" height="15" fill="#eb4d5c"/>
<rect x="1204" y="347" width="1" height="13" fill="#f5a6ae"/>
<rect x="1202" y="347" width="5" height="13" fill="#eb4d5c"/>
<rect x="1211" y="341" width="1" height="5" fill="#a9cdd3"/>
<rect x="1209" y="344" width="5" height="2" fill="#53b987"/>
<rect x="1219" y="344" width="1" height="21" fill="#a9cdd3"/>
<rect x="1217" y="352" width="5" height="7" fill="#53b987"/>
<rect x="1226" y="347" width="1" height="18" fill="#a9cdd3"/>
<rect x="1224" y="350" width="5" height="10" fill="#53b987"/>
<rect x="1234" y="338" width="1" height="19" fill="#a9cdd3"/>
<rect x="1232" y="343" width="5" height="5" fill="#53b987"/>
<rect x="1241" y="336" width="1" height="23" fill="#a9cdd3"/>
<rect x="1239" y="339" width="5" height="7" fill="#53b987"/>
<rect x="1248" y="332" width="1" height="3" fill="#a9cdd3"/>
<rect x="1246" y="332" width="5" height="3" fill="#53b987"/>
<rect x="1256" y="332" width="1" height="13" fill="#f5a6ae"/>
<rect x="1254" y="332" width="5" height="9" fill="#eb4d5c"/>
<rect x="1263" y="345" width="1" height="10" fill="#a9cdd3"/>
<rect x="1261" y="345" width="5" height="1" fill="#53b987"/>
<rect x="1271" y="339" width="1" height="16" fill="#a9cdd3"/>
<rect x="1269" y="341" width="5" height="3" fill="#53b987"/>
</g>
<line x1="7" y1="343.5" x2="1446" y2="343.5" stroke="#53b987" stroke-width="1" stroke-dasharray="2,1" shape-rendering="crispEdges"/>
</g>
<g transform="translate(21.35,431.5) scale(0.9911,0.9710)" opacity="1"><path d="M2.6,13.8 C1.0,13.8 0,12.2 0,10.4 C0,8.0 1.8,5.9 4.7,5.95 C4.9,2.6 7.2,0 10.4,0 C12.8,0 14.6,1.2 15.5,2.55 L18.9,4.05 L20.0,6.8 C21.6,7.8 22.4,9.3 22.4,10.6 C22.4,12.4 21.2,13.8 19.6,13.8 Z" fill="#3bb0e2"/><path d="M0.2,11.5 L8.3,5.2 L13.6,12.3 L20.8,4.6" fill="none" stroke="#fff" stroke-width="1.45" stroke-linejoin="round"/></g>
<text x="51" y="442.6" font-size="14.5" fill="#6cc3ea" stroke="#6cc3ea" stroke-width="0.35" textLength="139.3" lengthAdjust="spacingAndGlyphs">charts by TradingView</text>
<text x="15.4" y="65" font-size="12" font-weight="bold" fill="#4a4a4a" textLength="151.4" lengthAdjust="spacingAndGlyphs">BTS / bitUSD (Native), 240</text>
<text x="15.4" y="81.9" font-size="12" fill="#4a4a4a" textLength="101" lengthAdjust="spacingAndGlyphs">MA (100, close, 0)</text>
<text x="15.4" y="99.3" font-size="12" fill="#4a4a4a" textLength="101" lengthAdjust="spacingAndGlyphs">MA (200, close, 0)</text>
<g font-size="11" fill="#555555">
<text x="1453" y="60.6">0.0620</text>
<text x="1453" y="93.6">0.0600</text>
<text x="1453" y="125.6">0.0580</text>
<text x="1453" y="158.6">0.0560</text>
<text x="1453" y="191.6">0.0540</text>
<text x="1453" y="223.6">0.0520</text>
<text x="1453" y="256.6">0.0500</text>
<text x="1453" y="288.6">0.0480</text>
<text x="1453" y="321.6">0.0460</text>
<text x="1453" y="354.6">0.0440</text>
<text x="1453" y="386.6">0.0420</text>
<text x="1453" y="419.6">0.0400</text>
<text x="1453" y="451.6">0.0380</text>
</g>
<g font-size="11" fill="#555555" text-anchor="middle">
<text x="12.0" y="476.8">11</text>
<text x="101.0" y="476.8">13</text>
<text x="190.0" y="476.8">15</text>
<text x="279.0" y="476.8">17</text>
<text x="368.0" y="476.8">19</text>
<text x="457.0" y="476.8">21</text>
<text x="546.0" y="476.8">23</text>
<text x="635.0" y="476.8">25</text>
<text x="724.0" y="476.8">27</text>
<text x="812.0" y="476.8">29</text>
<text x="946.0" y="476.8" font-weight="bold">Aug</text>
<text x="1035.0" y="476.8">3</text>
<text x="1124.0" y="476.8">5</text>
<text x="1212.0" y="476.8">7</text>
<text x="1301.0" y="476.8">9</text>
<text x="1390.0" y="476.8">11</text>
</g>
<rect x="1446" y="294" width="45" height="16" fill="#9c0cf8" shape-rendering="crispEdges"/>
<rect x="1446" y="301" width="3" height="1" fill="#fff" shape-rendering="crispEdges"/>
<text x="1453" y="305.6" font-size="11" font-weight="bold" fill="#fff">0.0470</text>
<rect x="1446" y="336" width="45" height="16" fill="#53b987" shape-rendering="crispEdges"/>
<rect x="1446" y="343" width="3" height="1" fill="#fff" shape-rendering="crispEdges"/>
<text x="1453" y="347.6" font-size="11" font-weight="bold" fill="#fff">0.0444</text>
<rect x="6.5" y="43.5" width="1485" height="438" fill="none" stroke="#000" stroke-width="1" shape-rendering="crispEdges"/>
<text x="6.3" y="16.7" font-size="12.5" fill="#000" stroke="#000" stroke-width="0.18" textLength="52.2" lengthAdjust="spacingAndGlyphs">Published</text>
<text x="61.8" y="16.7" font-size="12.5" fill="#000" stroke="#000" stroke-width="0.18" textLength="14.1" lengthAdjust="spacingAndGlyphs">on</text>
<text x="78.9" y="16.7" font-size="12.5" fill="#000" stroke="#000" stroke-width="0.18" textLength="102.5" lengthAdjust="spacingAndGlyphs">TradingView.com,</text>
<text x="185.0" y="16.7" font-size="12.5" fill="#000" stroke="#000" stroke-width="0.18" textLength="37.8" lengthAdjust="spacingAndGlyphs">August</text>
<text x="226.6" y="16.7" font-size="12.5" fill="#000" stroke="#000" stroke-width="0.18" textLength="17.5" lengthAdjust="spacingAndGlyphs">08,</text>
<text x="247.8" y="16.7" font-size="12.5" fill="#000" stroke="#000" stroke-width="0.18" textLength="28.1" lengthAdjust="spacingAndGlyphs">2019</text>
<text x="279.9" y="16.7" font-size="12.5" fill="#000" stroke="#000" stroke-width="0.18" textLength="48.4" lengthAdjust="spacingAndGlyphs">15:19:05</text>
<text x="332.3" y="16.7" font-size="12.5" fill="#000" stroke="#000" stroke-width="0.18" textLength="25.4" lengthAdjust="spacingAndGlyphs">CEST</text>
<text x="6.3" y="33.6" font-size="12.5" fill="#000" stroke="#000" stroke-width="0.18" font-weight="bold" textLength="57.1" lengthAdjust="spacingAndGlyphs">BTS_USD,</text>
<text x="66.8" y="33.6" font-size="12.5" fill="#000" stroke="#000" stroke-width="0.18" font-weight="bold" textLength="20.4" lengthAdjust="spacingAndGlyphs">240</text>
<text x="93.0" y="33.6" font-size="12.5" fill="#000" stroke="#000" stroke-width="0.18" font-weight="bold" textLength="13.5" lengthAdjust="spacingAndGlyphs">O:</text>
<text x="106.5" y="33.6" font-size="12.5" fill="#000" stroke="#000" stroke-width="0.18" textLength="39.3" lengthAdjust="spacingAndGlyphs">0.0444</text>
<text x="150.5" y="33.6" font-size="12.5" fill="#000" stroke="#000" stroke-width="0.18" font-weight="bold" textLength="12.2" lengthAdjust="spacingAndGlyphs">H:</text>
<text x="163.3" y="33.6" font-size="12.5" fill="#000" stroke="#000" stroke-width="0.18" textLength="39.3" lengthAdjust="spacingAndGlyphs">0.0444</text>
<text x="207.1" y="33.6" font-size="12.5" fill="#000" stroke="#000" stroke-width="0.18" font-weight="bold" textLength="9.5" lengthAdjust="spacingAndGlyphs">L:</text>
<text x="217.5" y="33.6" font-size="12.5" fill="#000" stroke="#000" stroke-width="0.18" textLength="39.3" lengthAdjust="spacingAndGlyphs">0.0444</text>
<text x="261.2" y="33.6" font-size="12.5" fill="#000" stroke="#000" stroke-width="0.18" font-weight="bold" textLength="11.0" lengthAdjust="spacingAndGlyphs">C:</text>
<text x="272.8" y="33.6" font-size="12.5" fill="#000" stroke="#000" stroke-width="0.18" textLength="39.3" lengthAdjust="spacingAndGlyphs">0.0444</text>
<text x="6.3" y="504.7" font-size="13" fill="#000" stroke="#000" stroke-width="0.18" textLength="72.1" lengthAdjust="spacingAndGlyphs">Created with</text>
<g transform="translate(81.8,492.25) scale(1.0625,1.0616)" opacity="1"><path d="M2.6,13.8 C1.0,13.8 0,12.2 0,10.4 C0,8.0 1.8,5.9 4.7,5.95 C4.9,2.6 7.2,0 10.4,0 C12.8,0 14.6,1.2 15.5,2.55 L18.9,4.05 L20.0,6.8 C21.6,7.8 22.4,9.3 22.4,10.6 C22.4,12.4 21.2,13.8 19.6,13.8 Z" fill="#5cc3e8"/><path d="M0.2,11.5 L8.3,5.2 L13.6,12.3 L20.8,4.6" fill="none" stroke="#fff" stroke-width="1.45" stroke-linejoin="round"/></g>
<text x="106.9" y="504.7" font-size="13.5" fill="#3db3e3" textLength="69.8" lengthAdjust="spacingAndGlyphs">TradingView</text>
</svg>
</body></html>
